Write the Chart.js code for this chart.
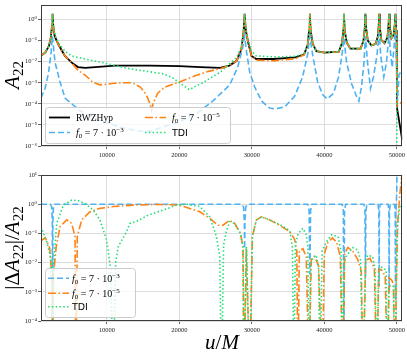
<!DOCTYPE html>
<html>
<head>
<meta charset="utf-8">
<script src="https://cdn.jsdelivr.net/npm/chart.js@4.4.1/dist/chart.umd.min.js"></script>
<style>
  html, body { margin: 0; padding: 0; background: #fff; }
  #wrap { position: relative; width: 407px; height: 354px; }
  canvas { position: absolute; left: 0; }
  #top { top: 0; }
  #bottom { top: 160px; }
</style>
</head>
<body>
<div id="wrap">
  <canvas id="top" width="407" height="160"></canvas>
  <canvas id="bottom" width="407" height="194"></canvas>
</div>
<script>
// Panel superior: A22 frente a u/M  ([u, valor])
const rwzTop = [[900,1.9e-2],[1500,2.8e-2],[2000,5.6e-2],[2250,0.14],[2420,0.5],[2500,1.9],[2600,0.45],[2800,0.16],[3300,6.6e-2],[4200,1.9e-2],
  [5100,9.3e-3],[6000,5.6e-3],[7000,5.1e-3],[9300,5.9e-3],[11100,6.6e-3],[13200,6.6e-3],[16000,6.5e-3],[20000,6.2e-3],[22900,5.6e-3],[25600,5.1e-3],
  [26900,6.6e-3],[27900,1.1e-2],[28550,3.9e-2],[28850,0.25],[29000,1.9],[29150,0.32],[29500,7.9e-2],[29950,1.9e-2],[30600,1.35e-2],[33000,1.35e-2],
  [36000,1.6e-2],[37200,2.2e-2],[37700,6.3e-2],[37900,0.32],[38000,1.9],[38100,0.32],[38400,7.1e-2],[38900,3.2e-2],[40000,2.7e-2],[42000,3.0e-2],
  [42450,7.9e-2],[42620,0.32],[42700,1.9],[42800,0.32],[43100,7.9e-2],[43600,4.2e-2],[45000,4.2e-2],[45400,0.1],[45580,0.4],[45670,1.9],
  [45760,0.4],[46000,0.1],[46500,6.0e-2],[47100,7.1e-2],[47380,0.16],[47500,0.5],[47560,1.9],[47640,0.5],[47850,0.11],[48300,7.6e-2],
  [48700,0.14],[48850,0.5],[48940,1.9],[49020,0.5],[49250,0.13],[49550,0.18],[49730,0.63],[49810,1.9],[49890,0.32],[49980,0.11],
  [50030,6.3e-5],[50740,2.0e-6]];

const f3Top = [[900,1.9e-4],[1460,5.5e-4],[1920,2.7e-3],[2290,2.7e-2],[2470,0.16],[2840,9.3e-3],[3530,1.1e-3],[4215,1.9e-4],[6280,4.7e-5],[9040,1.6e-5],
  [11800,7.9e-6],[14550,5.0e-6],[16000,5.0e-6],[17710,7.9e-6],[20000,1.4e-5],[22350,3.4e-5],[24600,1.35e-4],[26940,7.9e-4],[28040,5.5e-3],[28730,4.6e-2],
  [29000,0.16],[29280,2.7e-2],[29700,3.2e-3],[30390,6.3e-4],[31350,1.35e-4],[32450,6.3e-5],[33140,5.8e-5],[34520,7.1e-5],[35900,2.3e-4],[37000,1.9e-3],
  [37690,2.2e-2],[38000,0.16],[38380,2.2e-2],[39070,1.1e-3],[39750,2.8e-4],[40400,1.7e-4],[41270,3.2e-4],[41960,1.9e-3],[42440,2.2e-2],[42700,0.13],
  [43070,9.3e-3],[43760,9.1e-4],[44440,2.3e-4],[44760,1.35e-4],[45130,6.6e-4],[45470,9.3e-3],[45670,0.16],[45960,9.3e-3],[46370,5.4e-4],[46780,1.9e-3],
  [47270,2.2e-2],[47560,0.22],[47810,1.6e-2],[48200,1.9e-3],[48570,9.3e-3],[48940,0.22],[49130,2.7e-2],[49360,5.5e-3],[49610,4.6e-2],[49810,0.4],
  [49950,9.3e-3],[50090,1.35e-4],[50300,2.5e-3],[50740,4.0e-3]];

const f5Top = [[900,1.9e-2],[1500,2.8e-2],[2000,5.6e-2],[2250,0.14],[2420,0.5],[2500,1.9],[2600,0.45],[2800,0.16],[3300,6.6e-2],[4200,1.9e-2],
  [5100,9.0e-3],[6000,4.0e-3],[7000,2.3e-3],[8000,1.1e-3],[9000,8.0e-4],[10000,8.5e-4],[11000,9.5e-4],[12500,1.0e-3],[13500,1.0e-3],[14600,6.3e-4],
  [15400,2.8e-4],[15900,1.1e-4],[16150,5.0e-5],[16400,1.1e-4],[17000,3.2e-4],[18000,6.3e-4],[20000,1.1e-3],[22400,2.3e-3],[24000,3.5e-3],[25650,4.7e-3],
  [26900,6.8e-3],[27900,1.1e-2],[28550,3.9e-2],[28850,0.25],[29000,1.9],[29150,0.32],[29500,7.9e-2],[29950,1.9e-2],[30600,1.2e-2],[33000,1.1e-2],
  [36000,1.4e-2],[37200,2.1e-2],[37700,6.3e-2],[37900,0.32],[38000,1.9],[38100,0.32],[38400,7.1e-2],[38900,3.2e-2],[40000,2.7e-2],[42000,3.0e-2],
  [42450,7.9e-2],[42620,0.32],[42700,1.9],[42800,0.32],[43100,7.9e-2],[43600,4.2e-2],[45000,4.2e-2],[45400,0.1],[45580,0.4],[45670,1.9],
  [45760,0.4],[46000,0.1],[46500,6.0e-2],[47100,7.1e-2],[47380,0.16],[47500,0.5],[47560,1.9],[47640,0.5],[47850,0.11],[48300,7.6e-2],
  [48700,0.14],[48850,0.5],[48940,1.9],[49020,0.5],[49250,0.13],[49550,0.18],[49730,0.63],[49810,1.9],[49890,0.32],[49980,0.11],
  [50030,7.9e-5],[50740,1.3e-4]];

const tdiTop = [[900,1.9e-2],[1500,2.8e-2],[2000,5.6e-2],[2250,0.14],[2420,0.5],[2500,1.9],[2600,0.5],[2800,0.2],[3300,7.9e-2],[4200,3.2e-2],
  [5100,1.9e-2],[7000,1.35e-2],[9300,9.3e-3],[11100,6.6e-3],[13200,4.6e-3],[15500,3.5e-3],[17700,2.7e-3],[19000,1.8e-3],[20000,1.0e-3],[21400,4.7e-4],
  [22300,7.1e-4],[23200,1.0e-3],[24400,1.8e-3],[25650,3.2e-3],[26900,7.9e-3],[27900,1.6e-2],[28550,5.0e-2],[28850,0.28],[29000,1.9],[29150,0.4],
  [29500,0.1],[29950,3.2e-2],[30600,1.9e-2],[33000,1.7e-2],[36000,1.8e-2],[37200,2.4e-2],[37700,6.3e-2],[37900,0.32],[38000,1.9],[38100,0.32],
  [38400,7.1e-2],[38900,3.2e-2],[40000,2.7e-2],[42000,3.0e-2],[42450,7.9e-2],[42620,0.32],[42700,1.9],[42800,0.32],[43100,7.9e-2],[43600,4.2e-2],
  [45000,4.2e-2],[45400,0.1],[45580,0.4],[45670,1.9],[45760,0.4],[46000,0.1],[46500,6.0e-2],[47100,7.1e-2],[47380,0.16],[47500,0.5],
  [47560,1.9],[47640,0.5],[47850,0.11],[48300,7.6e-2],[48700,0.14],[48850,0.5],[48940,1.9],[49020,0.5],[49250,0.13],[49550,0.18],
  [49730,0.63],[49810,1.9],[49890,0.32],[49980,0.11],[50030,1e-8],[50740,1e-8]];

// Panel inferior: |dA22|/A22
const f3Bottom = [[900,1.0],[2200,1.0],[2380,0.8],[2460,0.25],[2500,1e-6],[2540,0.25],[2620,0.8],[2800,1.0],[28600,1.0],[28850,0.8],
  [28960,0.25],[29000,3e-2],[29040,0.25],[29150,0.8],[29400,1.0],[37700,1.0],[37900,0.6],[38000,4e-3],[38100,0.6],[38300,1.0],
  [42450,1.0],[42620,0.6],[42700,1e-6],[42780,0.6],[42950,1.0],[45450,1.0],[45600,0.6],[45670,3e-3],[45740,0.6],[45880,1.0],
  [47400,1.0],[47520,0.6],[47560,1.5e-3],[47600,0.6],[47720,1.0],[48800,1.0],[48900,0.6],[48940,1e-3],[48980,0.6],[49100,1.0],
  [49700,1.0],[49780,0.5],[49810,5e-4],[49850,0.5],[49930,1.0],[50000,3],[50050,200],[50740,200]];

const f5Bottom = [[900,5.6e-2],[1500,7.1e-2],[2100,3.2e-2],[2400,3.2e-3],[2500,1e-6],[2600,3.2e-3],[3000,3.5e-2],[3530,0.17],[4450,0.29],[5140,0.22],
  [5590,7.8e-2],[5730,1e-6],[5910,7.9e-2],[6520,0.29],[7660,0.55],[9040,0.72],[10870,0.83],[13620,0.93],[17000,0.98],[20000,0.93],
  [22810,0.55],[24190,0.33],[25330,0.19],[26020,0.19],[26940,0.28],[27630,0.22],[28420,0.1],[28770,3.5e-2],[28910,1e-6],[29240,3.1e-2],
  [29700,1e-6],[30070,7.8e-2],[30620,0.29],[31310,0.37],[32450,0.29],[33830,0.19],[35210,0.115],[35900,6.3e-2],[36200,2.5e-2],[36350,1e-6],
  [36550,2.5e-2],[37040,3.0e-2],[37500,1.6e-2],[37870,1e-6],[38200,1.3e-2],[38660,1.6e-2],[39200,8e-3],[39700,1e-6],[40000,2e-2],[40500,5e-2],
  [41100,7e-2],[41700,5e-2],[42200,1.6e-2],[42540,1e-6],[42800,2e-2],[43240,3.3e-2],[43900,2.5e-2],[44600,1.3e-2],[45100,5e-3],[45350,1e-6],
  [45700,1.2e-2],[46300,1.4e-2],[46900,6.3e-3],[47230,1e-6],[47500,6e-3],[47900,5.6e-3],[48400,3.5e-3],[48700,1e-6],[48950,3e-3],[49300,2.5e-3],
  [49550,1.8e-3],[49710,1e-6],[49950,3e-3],[50100,0.2],[50400,2],[50740,12]];

const tdiBottom = [[910,0.17],[1690,5.2e-2],[2200,1.6e-2],[2420,1.6e-3],[2520,1e-6],[2650,1e-2],[3070,0.22],[3980,0.93],[5140,1.38],[6050,1.32],
  [6970,1.07],[8110,0.63],[9040,0.29],[9960,5.9e-2],[10500,6.3e-3],[10870,1e-6],[11200,1e-2],[11560,3.5e-2],[12710,0.115],[13170,0.22],
  [14090,0.26],[15500,0.4],[17750,0.63],[19600,0.93],[20980,1.0],[22810,0.83],[24190,0.37],[25110,7.8e-2],[25570,1.6e-2],[25800,1e-6],
  [26100,4e-2],[26500,0.126],[26940,0.25],[27630,0.22],[28420,0.1],[28770,3.5e-2],[28910,1e-6],[29240,3.5e-2],[29700,1e-6],[30070,7.8e-2],
  [30620,0.29],[31310,0.37],[32450,0.29],[33830,0.2],[35210,0.126],[35600,3.2e-2],[35800,1e-6],[36000,4e-2],[36400,0.1],[37040,0.15],
  [37500,9e-2],[37730,3.2e-2],[37900,1e-6],[38100,1e-2],[38600,1.6e-2],[38900,1.8e-2],[39200,6.3e-3],[39400,1e-6],[39700,2.5e-2],[40300,5.2e-2],
  [41000,9e-2],[41900,7.8e-2],[42300,2.5e-2],[42500,1e-6],[42700,1e-2],[43000,1.6e-2],[43900,3.3e-2],[44600,2.7e-2],[45000,1.2e-2],[45300,1e-6],
  [45700,1.2e-2],[45990,1.8e-2],[46680,1.6e-2],[47000,6e-3],[47230,1e-6],[47500,4e-3],[47830,7.2e-3],[48300,6e-3],[48530,5.6e-3],[48660,1e-6],
  [48900,1.5e-3],[49210,1.7e-3],[49530,1.5e-3],[49710,1e-6],[49950,3e-3],[50100,0.2],[50400,0.8],[50740,1.0]];

const xTickValues = [10000, 20000, 30000, 40000, 50000];
const topYTicks = [1, 1e-1, 1e-2, 1e-3, 1e-4, 1e-5, 1e-6];
const bottomYTicks = [10, 1, 1e-1, 1e-2, 1e-3, 1e-4];

const styles = {
    rwz: { color: '#000000', width: 1.8, dash: [] },
    f3:  { color: '#4db2f4', width: 1.6, dash: [6, 3] },
    f5:  { color: '#ff8214', width: 1.6, dash: [8, 2.5, 1.5, 2.5] },
    tdi: { color: '#22dd77', width: 1.6, dash: [1.5, 2.3] }
};

const SERIF = '"Liberation Serif", "DejaVu Serif", serif';
const fI = s => `italic ${s}px ${SERIF}`;
const fR = s => `${s}px ${SERIF}`;

const SUP = { '-': '⁻', '0': '⁰', '1': '¹', '2': '²', '3': '³', '4': '⁴', '5': '⁵', '6': '⁶', '7': '⁷', '8': '⁸', '9': '⁹' };
const pow10Label = v => '10' + String(Math.round(Math.log10(v))).split('').map(c => SUP[c]).join('');

function richWidth(ctx, runs) {
    let w = 0;
    runs.forEach(r => { ctx.font = r.f; w += ctx.measureText(r.t).width; });
    return w;
}

function drawRich(ctx, runs, x, y) {
    runs.forEach(r => {
        ctx.font = r.f;
        ctx.fillText(r.t, x, y + (r.dy || 0));
        x += ctx.measureText(r.t).width;
    });
}

const lblF3 = [{ t: 'f', f: fI(10) }, { t: '0', f: fR(7), dy: 2 }, { t: ' = 7 · 10', f: fR(10) }, { t: '−3', f: fR(7), dy: -4 }];
const lblF5 = [{ t: 'f', f: fI(10) }, { t: '0', f: fR(7), dy: 2 }, { t: ' = 7 · 10', f: fR(10) }, { t: '−5', f: fR(7), dy: -4 }];
const lblRwz = [{ t: 'RWZHyp', f: fR(9.5) }];
const lblTdi = [{ t: 'TDI', f: '9.5px "DejaVu Sans"' }];

function drawLegend(ctx, lg) {
    ctx.save();
    ctx.beginPath();
    ctx.roundRect(lg.x + 0.5, lg.y + 0.5, lg.w, lg.h, 3);
    ctx.fillStyle = 'rgba(255,255,255,0.8)';
    ctx.fill();
    ctx.strokeStyle = '#cccccc';
    ctx.lineWidth = 1;
    ctx.stroke();
    lg.items.forEach(it => {
        const s = styles[it.key];
        ctx.beginPath();
        ctx.setLineDash(s.dash);
        ctx.strokeStyle = s.color;
        ctx.lineWidth = s.width;
        ctx.moveTo(it.x, it.y);
        ctx.lineTo(it.x + 21, it.y);
        ctx.stroke();
        ctx.setLineDash([]);
        ctx.fillStyle = '#000';
        ctx.textBaseline = 'alphabetic';
        drawRich(ctx, it.label, it.tx, it.y + 3.5);
    });
    ctx.restore();
}

// marco, títulos de ejes y leyenda
function decorPlugin(opts) {
    return {
        id: 'decor',
        afterDraw(chart) {
            const { ctx, chartArea: a } = chart;
            ctx.save();
            ctx.strokeStyle = '#3c3c3c';
            ctx.lineWidth = 1;
            ctx.strokeRect(Math.round(a.left) + 0.5, Math.round(a.top) + 0.5,
                Math.round(a.right - a.left) - 1, Math.round(a.bottom - a.top) - 1);
            ctx.fillStyle = '#000';
            ctx.textBaseline = 'alphabetic';
            ctx.translate(opts.yTitle.x, opts.yTitle.y);
            ctx.rotate(-Math.PI / 2);
            const w = richWidth(ctx, opts.yTitle.runs);
            drawRich(ctx, opts.yTitle.runs, -w / 2, 0);
            ctx.restore();
            if (opts.xTitle) {
                ctx.save();
                ctx.fillStyle = '#000';
                const wx = richWidth(ctx, opts.xTitle.runs);
                drawRich(ctx, opts.xTitle.runs, opts.xTitle.x - wx / 2, opts.xTitle.y);
                ctx.restore();
            }
            drawLegend(ctx, opts.legend);
        }
    };
}

function makeScales(yMin, yMax, yTicks, xAxisHeight) {
    const tickFont = { family: SERIF, size: 6.5 };
    const grid = { color: '#d4d4d4', lineWidth: 0.8, tickColor: '#444', tickLength: 3 };
    return {
        x: {
            type: 'linear', min: 900, max: 50750,
            afterBuildTicks: ax => { ax.ticks = xTickValues.map(v => ({ value: v })); },
            afterFit: ax => { ax.height = xAxisHeight; },
            ticks: { autoSkip: false, maxRotation: 0, padding: 2, color: '#222', font: tickFont, callback: v => String(v) },
            grid: grid,
            border: { display: false }
        },
        y: {
            type: 'logarithmic', min: yMin, max: yMax,
            afterBuildTicks: ax => { ax.ticks = yTicks.map(v => ({ value: v })); },
            afterFit: ax => { ax.width = 41; },
            ticks: { padding: 1, color: '#222', font: tickFont, callback: v => pow10Label(v) },
            grid: grid,
            border: { display: false }
        }
    };
}

function ds(pairs, key, order) {
    const s = styles[key];
    return {
        data: pairs.map(p => ({ x: p[0], y: p[1] })),
        borderColor: s.color, borderWidth: s.width, borderDash: s.dash,
        pointRadius: 0, fill: false, tension: 0, order: order, clip: 0
    };
}

const common = {
    animation: false, responsive: false, devicePixelRatio: 1, events: [],
    plugins: { legend: { display: false }, tooltip: { enabled: false } }
};

new Chart(document.getElementById('top').getContext('2d'), {
    type: 'line',
    data: { datasets: [ds(rwzTop, 'rwz', 3), ds(f3Top, 'f3', 2), ds(f5Top, 'f5', 1), ds(tdiTop, 'tdi', 0)] },
    options: Object.assign({}, common, {
        layout: { padding: { left: 0, right: 4, top: 1, bottom: 0 } },
        scales: makeScales(1e-6, 5, topYTicks, 14)
    }),
    plugins: [decorPlugin({
        yTitle: { x: 19, y: 75, runs: [{ t: 'A', f: fI(21) }, { t: '22', f: fR(15), dy: 4 }] },
        legend: {
            x: 45, y: 107, w: 185, h: 36,
            items: [
                { key: 'rwz', x: 49, y: 117.5, tx: 76, label: lblRwz },
                { key: 'f3', x: 49, y: 132.5, tx: 76, label: lblF3 },
                { key: 'f5', x: 145, y: 117.5, tx: 172, label: lblF5 },
                { key: 'tdi', x: 145, y: 132.5, tx: 172, label: lblTdi }
            ]
        }
    })]
});

new Chart(document.getElementById('bottom').getContext('2d'), {
    type: 'line',
    data: { datasets: [ds(f3Bottom, 'f3', 2), ds(f5Bottom, 'f5', 1), ds(tdiBottom, 'tdi', 0)] },
    options: Object.assign({}, common, {
        layout: { padding: { left: 0, right: 4, top: 15, bottom: 0 } },
        scales: makeScales(1e-4, 10, bottomYTicks, 33)
    }),
    plugins: [decorPlugin({
        yTitle: {
            x: 19, y: 88, runs: [
                { t: '|Δ', f: fR(21) }, { t: 'A', f: fI(21) }, { t: '22', f: fR(15), dy: 4 },
                { t: '|/', f: fR(21) }, { t: 'A', f: fI(21) }, { t: '22', f: fR(15), dy: 4 }
            ]
        },
        xTitle: { x: 222, y: 189, runs: [{ t: 'u', f: fI(21) }, { t: '/', f: fR(21) }, { t: 'M', f: fI(21) }] },
        legend: {
            x: 45, y: 108, w: 90, h: 49,
            items: [
                { key: 'f3', x: 48, y: 118.3, tx: 72, label: lblF3 },
                { key: 'f5', x: 48, y: 133.3, tx: 72, label: lblF5 },
                { key: 'tdi', x: 48, y: 146.7, tx: 72, label: lblTdi }
            ]
        }
    })]
});
</script>
</body>
</html>
